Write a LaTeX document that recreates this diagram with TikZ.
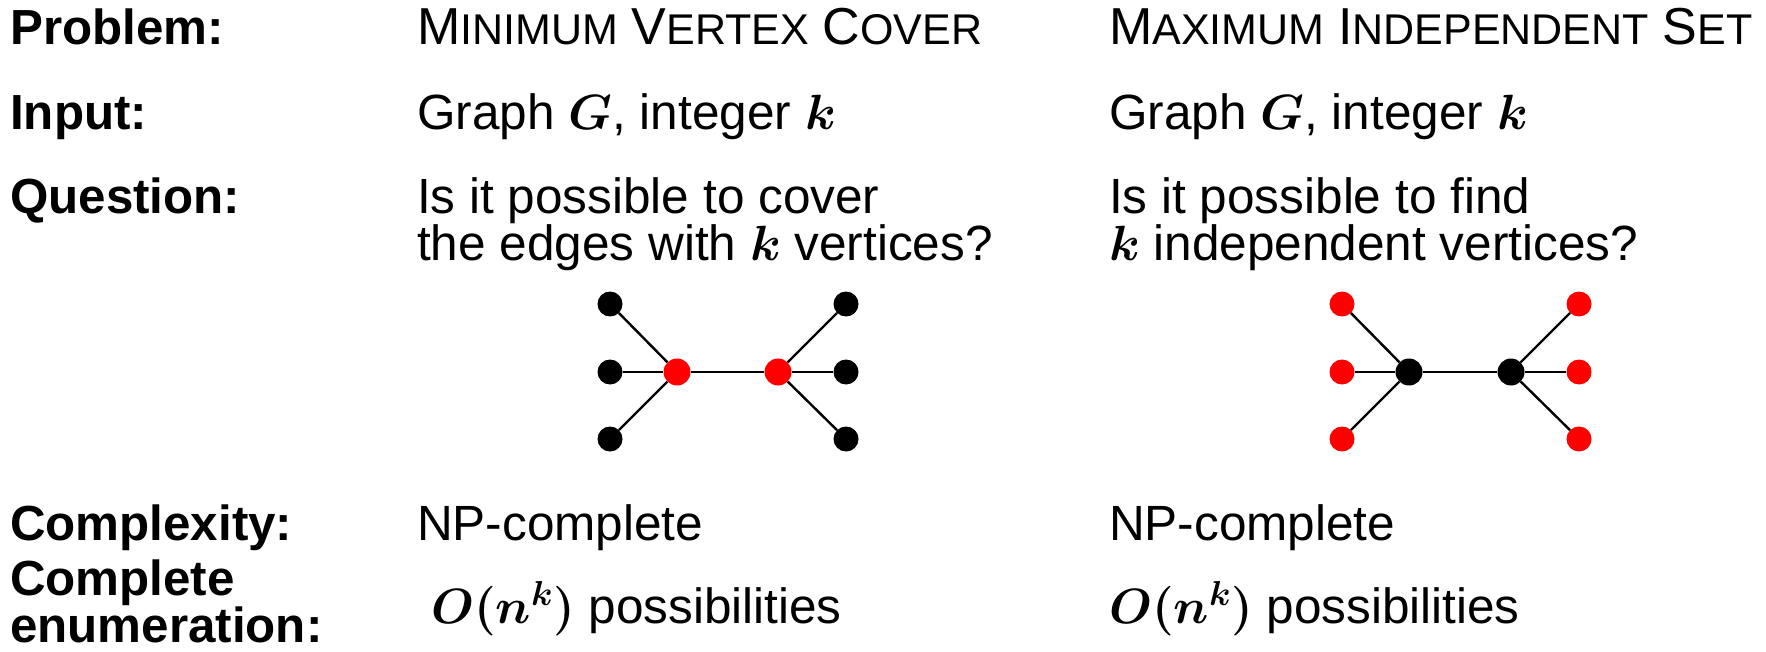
\RequirePackage{fix-cm}
\documentclass[tikz,border=0pt]{standalone}
\usepackage{amsmath}
\usepackage{fontspec}
\setmainfont{Liberation Sans}
\newcommand{\fakesc}[2]{{\fontsize{52}{47}\selectfont #1}{\fontsize{43}{47}\selectfont #2}}

\begin{document}
\begin{tikzpicture}[x=1pt, y=-1pt,
    lbl/.style={anchor=base west, inner sep=0pt, font=\fontsize{49.3}{47}\selectfont\bfseries},
    txt/.style={anchor=base west, inner sep=0pt, align=left, font=\fontsize{49.5}{47}\selectfont\boldmath},
    vtx/.style={circle, fill=black, inner sep=0pt, minimum size=25pt},
    hub/.style={vtx, minimum size=27pt},
    edge/.style={line width=2.4pt}]
    \useasboundingbox (0,0) rectangle (1766,652);

    % Problem
    \node[lbl] (problem) at (10,45) {Problem:};
    \node[txt] (mvc) at (417,45) {\fakesc{M}{INIMUM} \fakesc{V}{ERTEX} \fakesc{C}{OVER}};
    \node[txt] (mis) at (1109,45) {\fakesc{M}{AXIMUM} \fakesc{I}{NDEPENDENT} \fakesc{S}{ET}};

    % Input
    \node[lbl] (input) at (10,130) {Input:};
    \node[txt] (mvcin) at (417,130) {Graph $G$, integer $k$};
    \node[txt] (misin) at (1109,130) {Graph $G$, integer $k$};

    % Question (base is the last line)
    \node[lbl] (question) at (10,214) {Question:};
    \node[txt] (mvcq) at (417,261) {Is it possible to cover\\the edges with $k$ vertices?};
    \node[txt] (misq) at (1109,261) {Is it possible to find\\$k$ independent vertices?};

    % vertex cover: the two hubs are red
    \node[hub, fill=red] (vcL) at (677,372) {};
    \node[hub, fill=red] (vcR) at (778,372) {};
    \foreach \i/\y in {1/304, 2/372, 3/439} {
        \node[vtx] (vcl\i) at (610,\y) {};
        \node[vtx] (vcr\i) at (846,\y) {};
        \draw[edge] (vcl\i) -- (vcL);
        \draw[edge] (vcr\i) -- (vcR);
    }
    \draw[edge] (vcL) -- (vcR);

    % independent set: the six leaves are red
    \node[hub] (isL) at (1409,372) {};
    \node[hub] (isR) at (1511,372) {};
    \foreach \i/\y in {1/304, 2/372, 3/439} {
        \node[vtx, fill=red] (isl\i) at (1342,\y) {};
        \node[vtx, fill=red] (isr\i) at (1579,\y) {};
        \draw[edge] (isl\i) -- (isL);
        \draw[edge] (isr\i) -- (isR);
    }
    \draw[edge] (isL) -- (isR);

    % Complexity
    \node[lbl] (complexity) at (10,540) {Complexity:};
    \node[txt] (mvcc) at (417,540) {NP-complete};
    \node[txt] (misc) at (1109,540) {NP-complete};

    % Complete enumeration
    \node[lbl, align=left, font=\fontsize{49.3}{42}\selectfont\bfseries] (enum) at (10,642) {Complete\\enumeration:};
    \node[txt] (mvce) at (431,623) {$O(n^k)$ possibilities};
    \node[txt] (mise) at (1109,623) {$O(n^k)$ possibilities};
\end{tikzpicture}
\end{document}
